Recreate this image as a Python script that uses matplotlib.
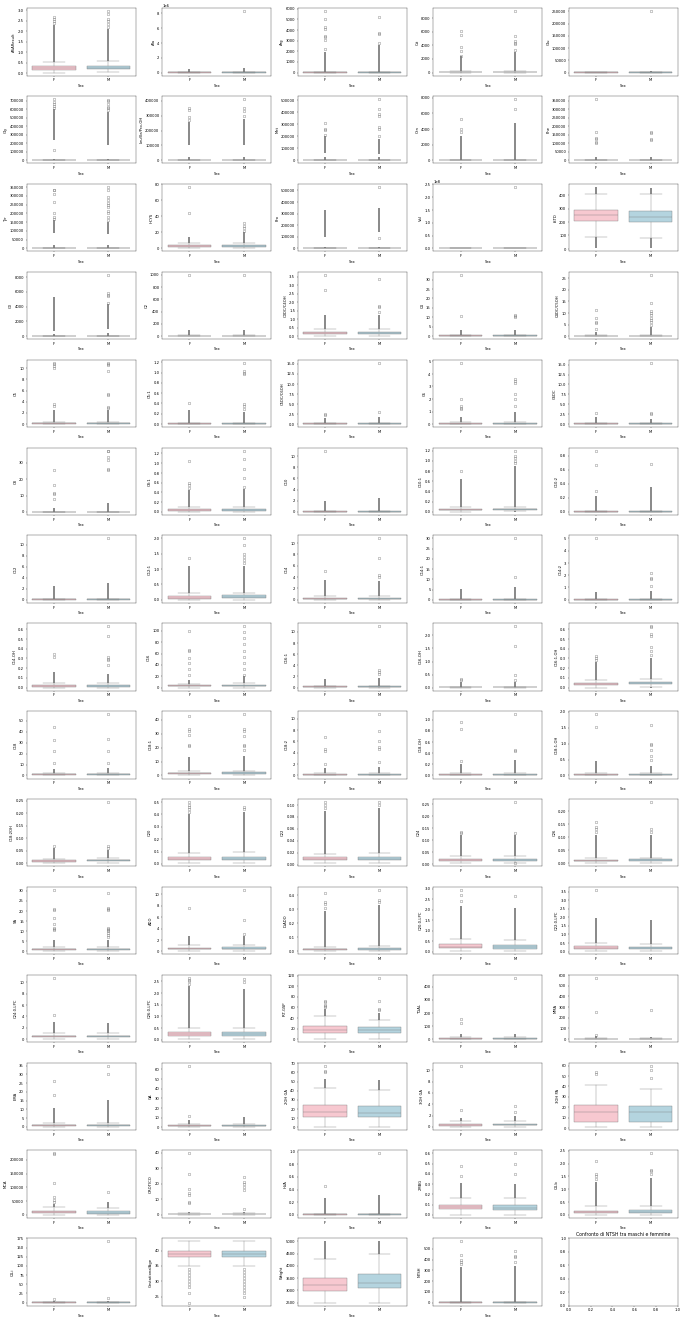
import colorsys
import matplotlib
matplotlib.use("Agg")
import matplotlib.pyplot as plt
import matplotlib.colors as mcolors

variables = ["ASAResult", "Ala", "Arg", "Cit", "Glu",
             "Gly", "Leu/Ile/Pro-OH", "Met", "Orn", "Phe",
             "Tyr", "HCYS", "Pro", "Val", "ISTD",
             "C0", "C2", "C3DC/C4OH", "C4", "C4DC/C5OH",
             "C5", "C5:1", "C5DC/C6OH", "C6", "C6DC",
             "C8", "C8:1", "C10", "C10:1", "C10:2",
             "C12", "C12:1", "C14", "C14:1", "C14:2",
             "C14-OH", "C16", "C16:1", "C16-OH", "C16:1-OH",
             "C18", "C18:1", "C18:2", "C18-OH", "C18:1-OH",
             "C18:2OH", "C20", "C22", "C24", "C26",
             "SA", "ADO", "D-ADO", "C20:0-LPC", "C22:0-LPC",
             "C24:0-LPC", "C26:0-LPC", "IRT-GSP", "TGAL", "MMA",
             "EMA", "GA", "2OH GA", "3OH GA", "3OH PA",
             "MCA", "OROTICO", "HVA", "2MBG", "C4-b",
             "C4-i", "GestationalAge", "Weight", "NTSH"]

sexes = ["F", "M"]
empty_title = "Confronto di NTSH tra maschi e femmine"

# (whisker low, Q1, median, Q3, whisker high)
F_BOX = [(0.03, 0.17, 0.25, 0.32, 0.55), (0, 5000, 12000, 25000, 60000), (0, 5, 12, 25, 55), (0, 20, 50, 100, 220), (0, 100, 300, 600, 1300),
         (0, 300, 800, 1500, 3500), (0, 200, 500, 1000, 2200), (0, 200, 500, 1000, 2200), (0, 5, 12, 25, 60), (0, 100, 300, 600, 1400),
         (0, 100, 300, 600, 1400), (0, 2, 3, 4, 6.5), (0, 100, 300, 600, 1400), (0, 1e4, 3e4, 6e4, 1.5e5), (90, 205, 255, 290, 410),
         (0, 3, 8, 15, 35), (0, 2, 5, 10, 22), (0, 0.12, 0.17, 0.23, 0.4), (0, 0.1, 0.2, 0.4, 0.85), (0, 0.05, 0.1, 0.2, 0.42),
         (0, 0.05, 0.1, 0.2, 0.35), (0, 0.003, 0.006, 0.012, 0.025), (0, 0.05, 0.1, 0.17, 0.35), (0, 0.02, 0.04, 0.07, 0.14), (0, 0.05, 0.1, 0.17, 0.35),
         (0, 0.02, 0.05, 0.1, 0.2), (0, 0.02, 0.03, 0.05, 0.09), (0, 0.03, 0.05, 0.09, 0.18), (0, 0.03, 0.045, 0.06, 0.1), (0, 0.002, 0.004, 0.008, 0.016),
         (0, 0.03, 0.06, 0.1, 0.2), (0, 0.04, 0.07, 0.11, 0.21), (0, 0.1, 0.2, 0.3, 0.6), (0, 0.05, 0.1, 0.15, 0.3), (0, 0.005, 0.01, 0.02, 0.04),
         (0, 0.01, 0.015, 0.025, 0.045), (0, 2, 3, 4, 7), (0, 0.05, 0.1, 0.2, 0.35), (0, 0.005, 0.01, 0.02, 0.04), (0, 0.025, 0.035, 0.045, 0.08),
         (0, 0.7, 1.0, 1.4, 2.4), (0, 1.0, 1.5, 2.0, 3.0), (0, 0.05, 0.1, 0.17, 0.35), (0, 0.005, 0.01, 0.02, 0.04), (0, 0.01, 0.02, 0.04, 0.07),
         (0, 0.007, 0.01, 0.013, 0.018), (0.005, 0.03, 0.04, 0.057, 0.09), (0.002, 0.007, 0.009, 0.012, 0.018), (0.003, 0.012, 0.016, 0.02, 0.033), (0, 0.007, 0.01, 0.013, 0.02),
         (0, 0.6, 0.9, 1.2, 2.0), (0.05, 0.35, 0.45, 0.6, 1.1), (0, 0.01, 0.013, 0.017, 0.028), (0.03, 0.17, 0.25, 0.35, 0.6), (0.02, 0.15, 0.22, 0.3, 0.48),
         (0, 0.3, 0.45, 0.6, 1.0), (0.03, 0.18, 0.25, 0.35, 0.52), (0.5, 12, 18, 25, 43), (0, 2, 4, 6, 12), (0, 1, 2, 4, 8),
         (0, 0.6, 0.9, 1.3, 2.4), (0.3, 1.2, 1.6, 2.0, 3.3), (0.5, 11.5, 17, 24, 43), (0, 0.2, 0.3, 0.5, 1.0), (1, 6, 15.5, 22.5, 41),
         (0, 5000, 9000, 15000, 28000), (0, 0.2, 0.4, 0.6, 1.2), (0, 0.002, 0.005, 0.01, 0.02), (0, 0.06, 0.08, 0.1, 0.16), (0, 0.06, 0.1, 0.16, 0.33),
         (0, 0.2, 0.5, 1, 2), (35, 38, 39, 40, 43), (2500, 2970, 3230, 3500, 4300), (0, 1, 2.5, 4, 8)]

M_BOX = [(0.07, 0.18, 0.27, 0.35, 0.57), (0, 6000, 13000, 27000, 62000), (0, 5, 13, 27, 58), (0, 20, 55, 110, 240), (0, 100, 300, 600, 1300),
         (0, 300, 800, 1600, 3600), (0, 200, 500, 1000, 2200), (0, 200, 500, 1000, 2200), (0, 5, 12, 25, 60), (0, 100, 300, 600, 1400),
         (0, 100, 300, 600, 1400), (0, 2, 3, 4.3, 6.8), (0, 100, 300, 600, 1400), (0, 1e4, 3e4, 6e4, 1.5e5), (80, 200, 240, 285, 405),
         (0, 3, 8, 15, 35), (0, 2, 5, 10, 22), (0, 0.14, 0.19, 0.27, 0.44), (0, 0.1, 0.2, 0.4, 0.85), (0, 0.05, 0.1, 0.2, 0.42),
         (0, 0.05, 0.1, 0.2, 0.35), (0, 0.003, 0.006, 0.012, 0.025), (0, 0.05, 0.1, 0.17, 0.35), (0, 0.02, 0.04, 0.07, 0.14), (0, 0.05, 0.1, 0.17, 0.35),
         (0, 0.02, 0.05, 0.1, 0.2), (0, 0.02, 0.035, 0.055, 0.09), (0, 0.03, 0.05, 0.09, 0.18), (0.01, 0.04, 0.05, 0.065, 0.1), (0, 0.002, 0.004, 0.008, 0.016),
         (0, 0.03, 0.06, 0.1, 0.2), (0, 0.06, 0.09, 0.14, 0.22), (0, 0.1, 0.2, 0.3, 0.6), (0, 0.05, 0.1, 0.15, 0.3), (0, 0.005, 0.01, 0.02, 0.04),
         (0, 0.008, 0.014, 0.024, 0.045), (0, 2, 3.2, 4.3, 7.5), (0, 0.05, 0.1, 0.2, 0.35), (0, 0.005, 0.01, 0.02, 0.04), (0.01, 0.035, 0.045, 0.06, 0.085),
         (0, 0.7, 1.0, 1.4, 2.4), (0.2, 1.2, 1.8, 2.4, 3.5), (0, 0.05, 0.1, 0.17, 0.35), (0, 0.005, 0.01, 0.02, 0.04), (0, 0.01, 0.02, 0.04, 0.07),
         (0.002, 0.009, 0.012, 0.015, 0.021), (0.006, 0.032, 0.043, 0.06, 0.1), (0.002, 0.007, 0.0095, 0.013, 0.02), (0.005, 0.012, 0.016, 0.021, 0.032), (0, 0.007, 0.011, 0.015, 0.022),
         (0, 0.6, 0.9, 1.2, 2.0), (0.05, 0.4, 0.5, 0.7, 1.15), (0, 0.01, 0.014, 0.02, 0.035), (0.03, 0.15, 0.23, 0.33, 0.57), (0.02, 0.14, 0.21, 0.28, 0.45),
         (0, 0.3, 0.45, 0.6, 1.0), (0.05, 0.17, 0.25, 0.34, 0.52), (0.5, 12, 17, 23, 37), (0, 2, 4, 6, 12), (0, 1, 2, 4, 8),
         (0, 0.6, 0.9, 1.3, 2.4), (0.3, 1.2, 1.6, 2.0, 3.3), (0.5, 11, 16, 23, 41), (0, 0.25, 0.35, 0.55, 1.1), (1, 5.5, 15, 21.5, 37.5),
         (0, 4000, 8000, 14000, 26000), (0, 0.2, 0.4, 0.6, 1.2), (0, 0.002, 0.005, 0.01, 0.02), (0, 0.05, 0.07, 0.095, 0.16), (0, 0.06, 0.1, 0.17, 0.34),
         (0, 0.2, 0.5, 1, 2), (35, 38, 39, 40, 43), (2500, 3080, 3320, 3650, 4500), (0, 1, 2.5, 4, 8)]

# ranges where outliers are so dense that they form a continuous column
F_DENSE = [[(0.55, 2.3)], [(60000, 450000)], [(55, 1900)], [(220, 2400)], [(1300, 4000)],
           [(3500, 20000), (240000, 600000)], [(2200, 20000), (100000, 260000)], [(2200, 25000), (60000, 200000)], [(60, 3100)], [(1400, 20000)],
           [(1400, 20000), (90000, 160000)], [(6.5, 14)], [(1400, 15000), (100000, 330000)], [(1.5e5, 1.5e6)], [(10, 90), (410, 460)],
           [(35, 300), (700, 5300)], [(22, 100)], [(0.4, 1.25)], [(0.85, 3.5)], [(0.42, 2.0)],
           [(0.35, 2.6)], [(0.025, 0.28)], [(0.35, 1.5)], [(0.14, 0.6)], [(0.35, 1.8)],
           [(0.2, 2.5)], [(0.09, 0.45)], [(0.18, 2.0)], [(0.1, 0.65)], [(0.016, 0.22)],
           [(0.2, 2.4)], [(0.21, 1.1)], [(0.6, 3.4)], [(0.3, 5.3)], [(0.04, 0.6)],
           [(0.045, 0.16)], [(7, 14)], [(0.35, 1.5)], [(0.04, 0.2)], [(0.08, 0.26)],
           [(2.4, 6)], [(3, 13)], [(0.35, 1.3)], [(0.04, 0.2)], [(0.07, 0.45)],
           [(0.018, 0.06)], [(0.09, 0.4)], [(0.018, 0.09)], [(0.033, 0.12)], [(0.02, 0.11)],
           [(2, 5.5)], [(1.1, 2.7)], [(0.028, 0.29)], [(0.6, 2.2)], [(0.48, 1.95)],
           [(1.0, 3.0)], [(0.52, 2.3)], [(43, 58)], [(12, 40)], [(8, 30)],
           [(2.4, 11)], [(3.3, 7)], [(43, 53)], [(1.0, 1.6)], [],
           [(28000, 40000)], [(1.2, 1.5)], [(0.02, 0.26)], [(0.16, 0.31)], [(0.33, 1.3)],
           [(2, 5)], [], [(4300, 5000)], [(8, 330)]]

M_DENSE = [[(0.57, 2.1)], [(62000, 650000)], [(58, 2600)], [(240, 3000)], [(1300, 5000)],
           [(3600, 20000), (180000, 570000)], [(2200, 25000), (100000, 280000)], [(2200, 25000), (50000, 180000)], [(60, 4700)], [(1400, 20000)],
           [(1400, 20000), (80000, 150000)], [(6.8, 20)], [(1400, 10000), (140000, 350000)], [(1.5e5, 2e6)], [(5, 80), (405, 450)],
           [(35, 400), (1000, 4300)], [(22, 100)], [(0.44, 1.25)], [(0.85, 3.5)], [(0.42, 4.0)],
           [(0.35, 2.5)], [(0.025, 0.23)], [(0.35, 1.8)], [(0.14, 1.0)], [(0.35, 1.3)],
           [(0.2, 5.5)], [(0.09, 0.48)], [(0.18, 2.5)], [(0.0, 0.01), (0.1, 0.9)], [(0.016, 0.36)],
           [(0.2, 3.0)], [(0.22, 1.1)], [(0.6, 3.3)], [(0.3, 6.0)], [(0.04, 0.7)],
           [(0.045, 0.14)], [(7.5, 20)], [(0.35, 1.7)], [(0.04, 0.2)], [(0.0, 0.01), (0.085, 0.3)],
           [(2.4, 7)], [(3.5, 14)], [(0.35, 1.5)], [(0.04, 0.28)], [(0.07, 0.3)],
           [(0.021, 0.055)], [(0.1, 0.42)], [(0.02, 0.095)], [(0.032, 0.12)], [(0.022, 0.11)],
           [(2, 5.5)], [(1.15, 2.8)], [(0.035, 0.33)], [(0.57, 2.1)], [(0.45, 1.85)],
           [(1.0, 2.9)], [(0.52, 2.15)], [(37, 50)], [(12, 40)], [(8, 20)],
           [(2.4, 15.5)], [(3.3, 10.5)], [(41, 52)], [(1.1, 2.0)], [],
           [(26000, 45000)], [(1.2, 1.5)], [(0.02, 0.32)], [(0.16, 0.3)], [(0.34, 1.45)],
           [(2, 5)], [], [(4500, 5000)], [(8, 340)]]

# individually visible outliers
F_OUT = [[2.4, 2.5, 2.6, 2.7], [], [2200, 3100, 3300, 3400, 4100, 4300, 5000, 5760], [2500, 3100, 3800, 5500, 6100], [],
         [120000, 620000, 640000, 660000, 690000, 720000], [270000, 290000, 340000, 350000], [210000, 250000, 260000, 310000], [3600, 4000, 5300], [100000, 110000, 125000, 130000, 165000, 360000],
         [170000, 180000, 200000, 265000, 310000, 330000, 335000], [44, 76.5], [], [], [],
         [], [1000], [2.7, 3.6], [10.5, 32.5], [3, 5.5, 6, 8, 11.5],
         [3.3, 3.6, 10.1, 10.4, 10.7, 10.9], [0.4], [2.2, 2.5], [1.2, 1.3, 1.4, 2.0, 4.9], [2.8],
         [8, 11, 11.5, 16.5, 25.5], [0.5, 0.55, 0.6, 1.05], [11], [0.8], [0.29, 0.66, 0.87],
         [], [1.37], [5.0], [], [5.0],
         [0.31, 0.35], [23, 33, 44, 53, 64, 66, 100], [], [0.28, 0.32], [0.28, 0.3, 0.32],
         [11, 22, 32, 44], [21, 22, 29, 32, 33, 43], [2.0, 4.3, 4.6, 6.7], [0.26, 0.84, 0.96], [1.52, 1.93],
         [0.07], [0.42, 0.44, 0.46, 0.48, 0.5], [0.095, 0.1, 0.105], [0.13, 0.135], [0.12, 0.13, 0.14, 0.16],
         [10.5, 11, 11.5, 13.5, 16.5, 20.5, 21, 30.5], [7.6], [0.31, 0.34, 0.35, 0.42], [2.4, 2.7, 2.95], [3.6],
         [4.3, 10.8], [2.4, 2.5, 2.55, 2.65], [60, 62, 65, 70, 72], [120, 155], [40, 250, 575],
         [18.5, 26.5], [11.5, 64], [60, 62, 67.5], [3.0, 10.8], [52, 54],
         [48000, 55000, 65000, 115000, 220000, 223000], [7.5, 8, 13, 14, 16.5, 26, 39.5], [0.45], [0.38, 0.48], [1.4, 1.5, 1.6, 2.1],
         [11], [34, 33, 32, 31, 30, 29, 28, 26, 23], [], [360, 380, 400, 440, 570]]

M_OUT = [[2.2, 2.35, 2.5, 2.6, 2.8, 2.95], [8300000], [2800, 3600, 3700, 5200], [3300, 4200, 4400, 4600, 5400, 9000], [250000],
         [590000, 610000, 630000, 660000, 700000, 715000], [300000, 330000, 350000, 410000], [200000, 260000, 280000, 370000, 390000, 430000, 510000], [6600, 7800], [120000, 125000, 160000, 165000],
         [160000, 180000, 200000, 215000, 235000, 250000, 260000, 275000, 290000, 330000, 350000], [22, 25, 28, 32], [90000, 530000], [2.4e8], [],
         [4500, 5400, 5600, 5800, 8300], [1000], [1.4, 1.7, 1.8, 3.35], [10.2, 10.6, 11], [5, 6, 7, 8, 9, 10, 11, 14.5, 26.5],
         [2.8, 3.0, 5.2, 5.4, 9.5, 10.6, 10.8, 11.0], [0.3, 0.35, 0.38, 0.98, 1.0, 1.03, 1.19], [3.0, 15.3], [1.4, 2.0, 2.4, 3.3, 3.4, 3.6], [2.6, 2.8, 15.5],
         [25.5, 26, 31.5, 33.5, 37, 37.5], [0.52, 0.69, 0.88, 1.08, 1.26], [], [0.95, 1.0, 1.05, 1.1, 1.2], [0.68],
         [11.1], [1.2, 1.3, 1.4, 1.5, 1.8, 2.0], [4.0, 4.4, 7.3, 10.8], [11.3, 30], [1.1, 1.7, 1.8, 2.2],
         [0.23, 0.28, 0.29, 0.31, 0.53, 0.63], [23, 33, 44, 54, 65, 77, 87, 98, 108], [2.4, 2.8, 3.2, 11], [0.3, 0.5, 1.6, 2.35], [0.33, 0.38, 0.42, 0.53, 0.55, 0.62, 0.63],
         [11, 22, 33, 56], [18, 21, 22, 28, 32, 33, 44], [2.4, 4.6, 5.0, 6.0, 7.9, 10.8], [0.44, 0.46, 1.1], [0.5, 0.6, 0.8, 0.95, 1.0, 1.58],
         [0.06, 0.07, 0.245], [0.44, 0.46], [0.1, 0.105], [0.003, 0.13, 0.26], [0.12, 0.13, 0.235],
         [7, 8, 9, 10, 10.5, 11, 11.5, 20.5, 21, 21.5, 29], [3.0, 5.6, 10.8], [0.35, 0.37, 0.44], [2.65], [],
         [], [2.45, 2.6], [55, 58, 73, 116], [470], [270],
         [30, 35], [], [], [2.6, 3.6], [48, 56, 60],
         [83000], [4, 16, 18, 20, 21, 24.5], [0.97], [0.4, 0.5, 0.6], [1.6, 1.7, 1.75, 2.4],
         [14, 167], [34, 33, 32, 31, 30, 29, 28, 27, 26, 25], [], [380, 420, 430, 480]]


def desaturate(color, prop):
    r, g, b = mcolors.to_rgb(color)
    h, l, s = colorsys.rgb_to_hls(r, g, b)
    return colorsys.hls_to_rgb(h, l, s * prop)


box_colors = [desaturate("pink", 0.75), desaturate("lightblue", 0.75)]
lum = min(colorsys.rgb_to_hls(*c)[1] for c in box_colors) * 0.6
gray = (lum, lum, lum)

nrows, ncols = 15, 5
fig, axes = plt.subplots(nrows, ncols, figsize=(25, 48.25), dpi=27.4)
axes = axes.ravel()

for i, var in enumerate(variables):
    ax = axes[i]
    stats = []
    for box, out, lab in ((F_BOX[i], F_OUT[i], "F"), (M_BOX[i], M_OUT[i], "M")):
        lo, q1, med, q3, hi = box
        stats.append(dict(whislo=lo, q1=q1, med=med, q3=q3, whishi=hi,
                          fliers=out, label=lab))
    art = ax.bxp(stats, positions=[0, 1], widths=0.8, patch_artist=True,
                 boxprops=dict(edgecolor=gray, linewidth=1.0),
                 whiskerprops=dict(color=gray, linewidth=1.0),
                 capprops=dict(color=gray, linewidth=1.0),
                 medianprops=dict(color=gray, linewidth=1.0),
                 flierprops=dict(marker="o", markerfacecolor="none",
                                 markeredgecolor=gray, markersize=7,
                                 markeredgewidth=1.0))
    for patch, c in zip(art["boxes"], box_colors):
        patch.set_facecolor(c)
    for pos, bands in ((0, F_DENSE[i]), (1, M_DENSE[i])):
        for lo, hi in bands:
            ax.vlines(pos, lo, hi, colors=gray, linewidth=5, alpha=0.9, zorder=1.5)
    ax.set_xlim(-0.5, 1.5)
    ax.set_xticks([0, 1])
    ax.set_xticklabels(sexes)
    ax.set_xlabel("Sex")
    ax.set_ylabel(var)

plt.tight_layout()
axes[-1].set_title(empty_title)
fig.savefig("out.png", dpi=27.4)
